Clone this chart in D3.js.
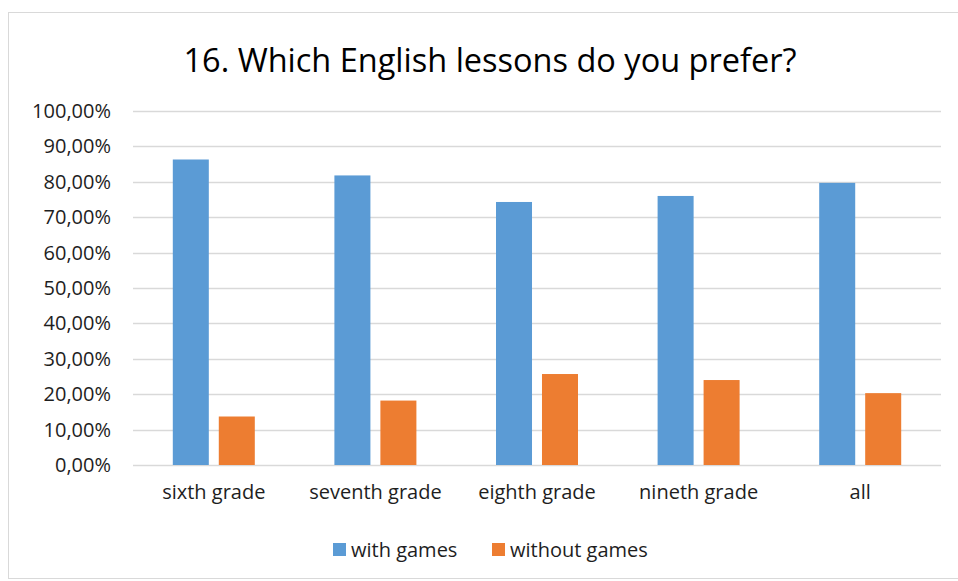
<!DOCTYPE html>
<html>
<head>
<meta charset="utf-8">
<script src="https://cdn.jsdelivr.net/npm/d3@7"></script>
<style>
 body { margin: 0; background: #fff; }
 text { font-family: "Open Sans", "Noto Sans", sans-serif; }
</style>
</head>
<body>
<svg id="chart" width="958" height="581"></svg>
<script>
// data
var categories = ["sixth grade", "seventh grade", "eighth grade", "nineth grade", "all"];
var seriesNames = ["with games", "without games"];
var withGames = [0.863, 0.818, 0.743, 0.760, 0.797];
var withoutGames = [0.137, 0.182, 0.257, 0.240, 0.203];
var yTicks = [0, 0.1, 0.2, 0.3, 0.4, 0.5, 0.6, 0.7, 0.8, 0.9, 1.0];
var colors = ["#5b9bd5", "#ed7d31"];

var svg = d3.select('#chart');
var m = {left: 133, right: 941, top: 111, bottom: 465};
var labelSize = '20px';
var labelColor = '#1e1e1e';

// outer frame
svg.append('rect')
  .attr('x', 8.5).attr('y', 12.5).attr('width', 980).attr('height', 566)
  .style('fill', 'none').style('stroke', '#d9d9d9').style('stroke-width', 1);

svg.append('text')
  .attr('x', 490).attr('y', 72)
  .attr('text-anchor', 'middle')
  .style('font-size', '32.5px').style('fill', '#000')
  .text('16. Which English lessons do you prefer?');

var y = d3.scaleLinear().domain([0, 1]).range([m.bottom, m.top]);
var x0 = d3.scaleBand().domain(categories).range([m.left, m.right]).padding(0);
var bw = x0.bandwidth();
var x1 = d3.scaleBand().domain(seriesNames)
  .range([bw / 2 - 41, bw / 2 + 41]).paddingInner(0.217).paddingOuter(0);

var fmt = function(v) { return d3.format('.2f')(v * 100).replace('.', ',') + '%'; };

// gridlines
svg.append('g').selectAll('line').data(yTicks).enter().append('line')
  .attr('x1', m.left).attr('x2', m.right)
  .attr('y1', function(d) { return Math.round(y(d)) + 0.5; })
  .attr('y2', function(d) { return Math.round(y(d)) + 0.5; })
  .style('stroke', '#d9d9d9').style('stroke-width', 1.3);

// y labels
var yAxis = d3.axisLeft(y).tickValues(yTicks).tickFormat(fmt).tickSize(0).tickPadding(0);
var ya = svg.append('g').attr('transform', 'translate(111,0)').call(yAxis);
ya.select('.domain').remove();
ya.selectAll('text').style('font-size', labelSize).style('fill', labelColor)
  .style('font-family', '"Open Sans", sans-serif');

// bars
var rows = categories.map(function(c, i) {
  return {cat: c, vals: [withGames[i], withoutGames[i]]};
});
var groups = svg.append('g').selectAll('g').data(rows).enter().append('g')
  .attr('transform', function(d) { return 'translate(' + x0(d.cat) + ',0)'; });
groups.selectAll('rect').data(function(d) {
    return d.vals.map(function(v, j) { return {s: seriesNames[j], v: v, j: j}; });
  }).enter().append('rect')
  .attr('x', function(d) { return x1(d.s); })
  .attr('width', x1.bandwidth())
  .attr('y', function(d) { return y(d.v); })
  .attr('height', function(d) { return y(0) - y(d.v); })
  .style('fill', function(d) { return colors[d.j]; });

// x labels
var xAxis = d3.axisBottom(x0).tickSize(0).tickPadding(0);
var xa = svg.append('g').attr('transform', 'translate(0,' + (m.bottom + 20) + ')').call(xAxis);
xa.select('.domain').remove();
xa.selectAll('text').style('font-size', labelSize).style('fill', labelColor)
  .style('font-family', '"Open Sans", sans-serif');

// legend
var legendX = [333, 492];
var lg = svg.append('g').selectAll('g').data(seriesNames).enter().append('g')
  .attr('transform', function(d, i) { return 'translate(' + legendX[i] + ',543)'; });
lg.append('rect').attr('width', 13).attr('height', 13)
  .style('fill', function(d, i) { return colors[i]; });
lg.append('text').attr('x', 18).attr('y', 13.5)
  .style('font-size', labelSize).style('fill', labelColor)
  .text(function(d) { return d; });
</script>
</body>
</html>
